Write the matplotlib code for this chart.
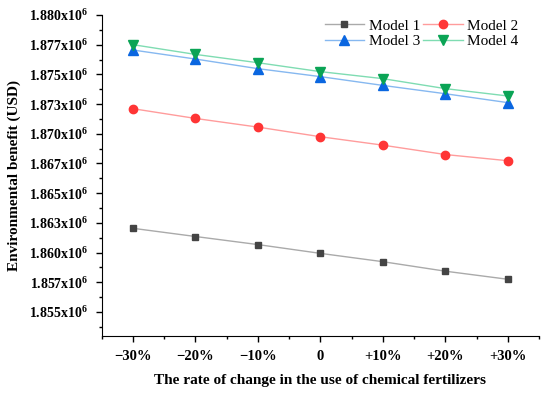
import matplotlib.pyplot as plt
from matplotlib.ticker import FixedLocator, MultipleLocator

plt.rcParams['font.family'] = ['Liberation Serif', 'DejaVu Serif']
plt.rcParams['mathtext.fontset'] = 'custom'
plt.rcParams['mathtext.rm'] = 'Liberation Serif'
plt.rcParams['mathtext.bf'] = 'Liberation Serif:bold'
plt.rcParams['mathtext.default'] = 'bf'

# data
change_rate = [-30, -20, -10, 0, 10, 20, 30]
x_labels = ['\u221230%', '\u221220%', '\u221210%', '0', '+10%', '+20%', '+30%']
model1 = [1.86204e6, 1.86135e6, 1.86067e6, 1.85993e6, 1.85923e6, 1.85843e6, 1.85775e6]
model2 = [1.87211e6, 1.87129e6, 1.87056e6, 1.86975e6, 1.86904e6, 1.86825e6, 1.86773e6]
model3 = [1.87705e6, 1.87629e6, 1.87548e6, 1.87481e6, 1.87407e6, 1.87337e6, 1.87262e6]
model4 = [1.87750e6, 1.87668e6, 1.87598e6, 1.87523e6, 1.87464e6, 1.87380e6, 1.87318e6]
y_ticks = [1.855e6, 1.8575e6, 1.860e6, 1.8625e6, 1.865e6, 1.8675e6,
           1.870e6, 1.8725e6, 1.875e6, 1.8775e6, 1.880e6]
y_labels = ['1.855', '1.857', '1.860', '1.863', '1.865', '1.867',
            '1.870', '1.873', '1.875', '1.877', '1.880']

fig = plt.figure(figsize=(5.5, 3.94), dpi=100)
ax = fig.add_axes([0.185, 0.148, 0.795, 0.814])

l1, = ax.plot(change_rate, model1, color='#aaaaaa', lw=1, marker='s', ms=5,
              mfc='#444444', mec='#444444', label='Model 1')
l2, = ax.plot(change_rate, model2, color='#ff9c9c', lw=1, marker='o', ms=6,
              mfc='#ff3535', mec='#ff3535', label='Model 2')
l3, = ax.plot(change_rate, model3, color='#86b8f0', lw=1, marker='^', ms=6.5,
              mfc='#0a66e0', mec='#0a66e0', label='Model 3')
l4, = ax.plot(change_rate, model4, color='#7fdcb2', lw=1, marker='v', ms=6.5,
              mfc='#0aa455', mec='#0aa455', label='Model 4')

ax.set_xlim(-35, 35)
ax.set_ylim(1.853e6, 1.880e6)
ax.xaxis.set_major_locator(FixedLocator(change_rate))
ax.set_xticklabels(x_labels, fontweight='bold', fontsize=10.5)
ax.xaxis.set_minor_locator(MultipleLocator(5))
ax.yaxis.set_major_locator(FixedLocator(y_ticks))
ax.set_yticklabels([s + 'x10$^{6}$' for s in y_labels], fontweight='bold', fontsize=10)
ax.yaxis.set_minor_locator(MultipleLocator(1250))

ax.tick_params(which='major', direction='out', length=4, width=1, pad=6)
ax.tick_params(which='minor', direction='out', length=2.5, width=1)
ax.spines['top'].set_visible(False)
ax.spines['right'].set_visible(False)

ax.set_xlabel('The rate of change in the use of chemical fertilizers',
              fontweight='bold', fontsize=11, labelpad=8)
ax.set_ylabel('Environmental benefit (USD)', fontweight='bold', fontsize=11, labelpad=6)

# order so rows read Model 1, Model 2 / Model 3, Model 4
ax.legend([l1, l3, l2, l4], ['Model 1', 'Model 3', 'Model 2', 'Model 4'],
          ncol=2, loc='upper right', frameon=False, fontsize=11,
          handlelength=2.6, columnspacing=0.2, handletextpad=0.3,
          labelspacing=0.1, bbox_to_anchor=(0.985, 1.03))

fig.savefig('out.png', dpi=100)
